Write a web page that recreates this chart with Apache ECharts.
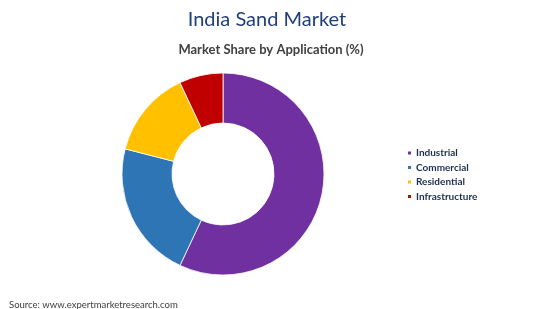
<!DOCTYPE html>
<html>
<head>
<meta charset="utf-8">
<script src="https://cdn.jsdelivr.net/npm/echarts@6/dist/echarts.min.js"></script>
<style>
html,body{margin:0;padding:0;background:#fff;}
#c{width:550px;height:309px;}
</style>
</head>
<body>
<div id="c"></div>
<script>
const categories = ['Industrial', 'Commercial', 'Residential', 'Infrastructure'];
const shares = [57, 22, 14, 7];
const colors = ['#7030A0', '#2E75B6', '#FFC000', '#C00000'];

const chart = echarts.init(document.getElementById('c'), null, {renderer: 'canvas'});
chart.setOption({
  animation: false,
  backgroundColor: '#ffffff',
  title: [
    {
      text: 'India Sand Market',
      left: 262, top: 5, textAlign: 'center',
      textStyle: {fontFamily: 'Lato', fontWeight: 'normal', fontSize: 20, color: '#1F3F7A'}
    },
    {
      text: 'Market Share by Application (%)',
      left: 266, top: 38, textAlign: 'center',
      textStyle: {fontFamily: 'Lato', fontWeight: 'bold', fontSize: 13, color: '#404040'}
    },
    {
      text: 'Source: www.expertmarketresearch.com',
      left: 4, top: 295,
      textStyle: {fontFamily: 'Lato', fontWeight: 'normal', fontSize: 9.5, color: '#404040'}
    }
  ],
  legend: {
    orient: 'vertical',
    left: 406, top: 148,
    padding: 0,
    icon: 'rect',
    itemWidth: 5, itemHeight: 5,
    itemGap: 4.5,
    data: categories,
    textStyle: {fontFamily: 'Lato', fontWeight: 'bold', fontSize: 10, color: '#1F2D4E', padding: [0,0,0,-1]}
  },
  series: [{
    type: 'pie',
    center: [223, 174],
    radius: [51, 101],
    startAngle: 90,
    clockwise: true,
    label: {show: false},
    labelLine: {show: false},
    itemStyle: {borderColor: '#ffffff', borderWidth: 0.8},
    emphasis: {disabled: true},
    data: categories.map((n, i) => ({name: n, value: shares[i], itemStyle: {color: colors[i]}}))
  }]
});
</script>
</body>
</html>
